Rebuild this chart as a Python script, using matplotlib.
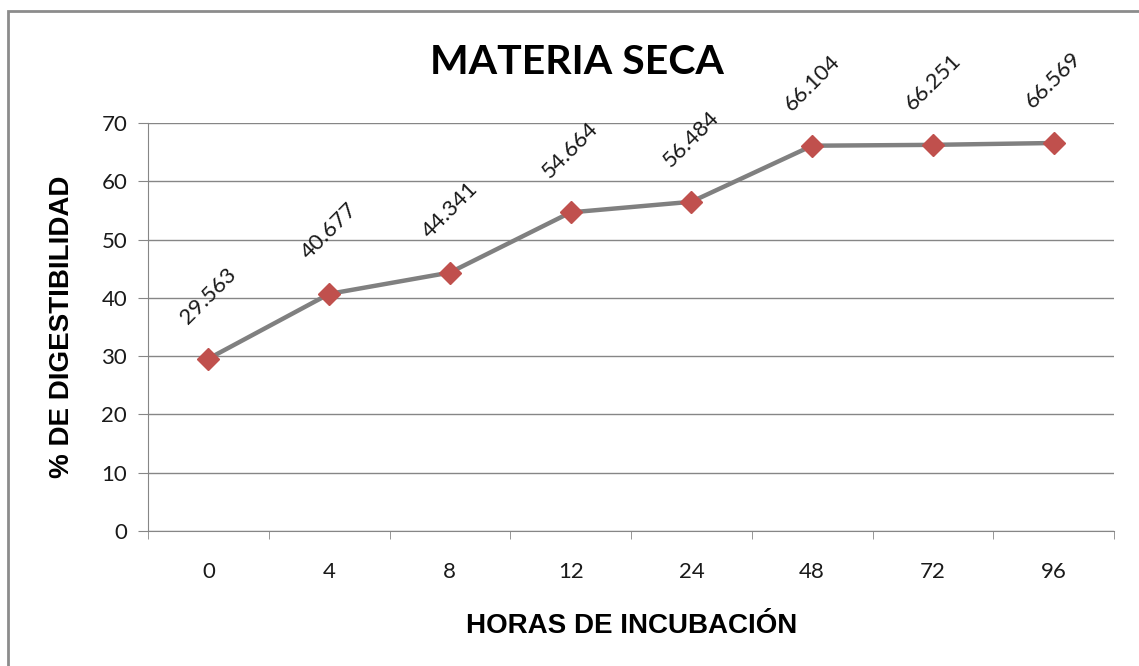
import matplotlib.pyplot as plt
import numpy as np
from matplotlib.patches import Rectangle

hours = ["0", "4", "8", "12", "24", "48", "72", "96"]
digestibility = [29.563, 40.677, 44.341, 54.664, 56.484, 66.104, 66.251, 66.569]
y_ticks = [0, 10, 20, 30, 40, 50, 60, 70]

W, H = 1139, 666
fig = plt.figure(figsize=(W / 100, H / 100), dpi=100)

# outer chart border (cut off on right and bottom like the source)
fig.patches.append(Rectangle((8 / W, -0.1), 1.2, 1 - 11 / H + 0.1, transform=fig.transFigure,
                             fill=False, edgecolor="#8c8c8c", linewidth=2))

ax = fig.add_axes([148 / W, 1 - 531 / H, (1114 - 148) / W, (531 - 123) / H])

x = np.arange(len(hours))
ax.plot(x, digestibility, color="#808080", linewidth=3.2, zorder=3)
ax.plot(x, digestibility, linestyle="none", marker="D", markersize=11.5,
        color="#C0504D", zorder=4)

for xi, v in zip(x, digestibility):
    ax.annotate(f"{v:.3f}", (xi, v), xytext=(0, 45), textcoords="offset points",
                ha="center", va="center", rotation=45, fontsize=16,
                family="Lato", color="#1a1a1a")

ax.set_xlim(-0.5, len(hours) - 0.5)
ax.set_ylim(0, 70)
ax.set_yticks(y_ticks)
ax.set_xticks(x)
ax.set_xticklabels(hours)
ax.set_xticks(np.arange(len(hours) + 1) - 0.5, minor=True)
ax.tick_params(axis="x", which="major", length=0, pad=22)
ax.tick_params(axis="x", which="minor", length=6, color="#868686", direction="out")
ax.tick_params(axis="y", length=7, color="#868686", pad=8)
for lbl in ax.get_xticklabels() + ax.get_yticklabels():
    lbl.set_fontsize(16)
    lbl.set_family("Lato")
    lbl.set_color("#1a1a1a")

ax.grid(axis="y", color="#868686", linewidth=1)
ax.set_axisbelow(True)
for side in ["top", "right"]:
    ax.spines[side].set_visible(False)
for side in ["left", "bottom"]:
    ax.spines[side].set_color("#868686")

fig.text(577 / W, 1 - 62 / H, "MATERIA SECA", ha="center", va="center",
         fontsize=29.5, fontweight="bold", family="Lato")
fig.text(632 / W, 1 - 626 / H, "HORAS DE INCUBACIÓN", ha="center", va="center",
         fontsize=20, fontweight="bold", family="Liberation Sans")
fig.text(62 / W, 1 - 327 / H, "% DE DIGESTIBILIDAD", ha="center", va="center",
         rotation=90, fontsize=20, fontweight="bold", family="Liberation Sans")

fig.savefig("out.png", dpi=100)
